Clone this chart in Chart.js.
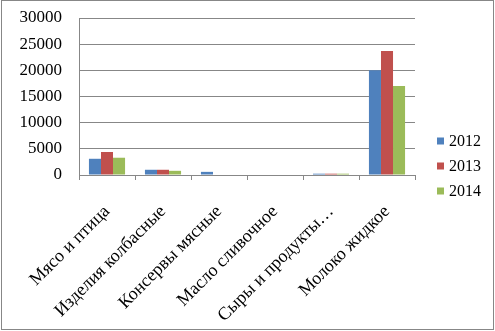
<!DOCTYPE html>
<html>
<head>
<meta charset="utf-8">
<script src="https://cdn.jsdelivr.net/npm/chart.js@4.4.1/dist/chart.umd.min.js"></script>
<style>
  html, body { margin: 0; padding: 0; background: #fff; }
  #wrap { width: 495px; height: 331px; position: relative; }
</style>
</head>
<body>
<div id="wrap"><canvas id="c" width="495" height="331"></canvas></div>
<script>
// Product volumes by category, three years side by side.
const categories = [
  'Мясо и птица',
  'Изделия колбасные',
  'Консервы мясные',
  'Масло сливочное',
  'Сыры и продукты…',
  'Молоко жидкое',
];
const years = ['2012', '2013', '2014'];
const values2012 = [3100, 1000, 600, 0, 250, 20000];
const values2013 = [4400, 1000, 0, 0, 250, 23700];
const values2014 = [3300, 800, 0, 0, 250, 17000];
const yTicks = [0, 5000, 10000, 15000, 20000, 25000, 30000];

const colors = ['#4F81BD', '#C0504D', '#9BBB59'];
const gridColor = '#878787';
const serif = '"Liberation Serif", "Times New Roman", serif';

// Outer frame and the right-hand legend are painted by hand.
const framePlugin = {
  id: 'frame',
  afterDraw(chart) {
    const ctx = chart.ctx;
    ctx.save();
    ctx.strokeStyle = gridColor;
    ctx.lineWidth = 1;
    ctx.strokeRect(1.5, 0.5, 492, 329);

    ctx.font = '16px ' + serif;
    ctx.textBaseline = 'middle';
    chart.data.datasets.forEach((ds, i) => {
      const y = 141 + i * 25;
      ctx.fillStyle = ds.backgroundColor;
      ctx.fillRect(437, y - 3.5, 7, 7);
      ctx.fillStyle = '#000';
      ctx.fillText(ds.label, 449, y + 1);
    });
    ctx.restore();
  },
};

new Chart(document.getElementById('c'), {
  type: 'bar',
  data: {
    labels: categories,
    datasets: [values2012, values2013, values2014].map((v, i) => ({
      label: years[i],
      data: v,
      backgroundColor: colors[i],
      borderWidth: 0,
      categoryPercentage: 0.645,
      barPercentage: 1,
    })),
  },
  options: {
    responsive: false,
    animation: false,
    devicePixelRatio: 1,
    layout: { padding: { left: 0, right: 80, top: 18, bottom: 0 } },
    plugins: {
      legend: { display: false },
      tooltip: { enabled: false },
    },
    scales: {
      x: {
        grid: {
          drawOnChartArea: false,
          drawTicks: true,
          tickLength: 5,
          color: gridColor,
          offset: true,
        },
        border: { display: true, color: gridColor },
        ticks: {
          color: '#000',
          font: { family: serif, size: 18 },
          minRotation: 45,
          maxRotation: 45,
          autoSkip: false,
          padding: 21,
        },
        afterFit(scale) { scale.height = 156; },
      },
      y: {
        min: 0,
        max: 30000,
        afterBuildTicks(scale) { scale.ticks = yTicks.map((v) => ({ value: v })); },
        grid: { drawTicks: false, color: gridColor },
        border: { display: true, color: gridColor },
        ticks: {
          color: '#000',
          font: { family: serif, size: 17 },
          padding: 17,
          callback: (v) => String(v),
        },
        afterFit(scale) {
          scale.width = 79;
          scale.paddingTop = 0;
          scale.paddingBottom = 0;
        },
      },
    },
  },
  plugins: [framePlugin],
});
</script>
</body>
</html>
